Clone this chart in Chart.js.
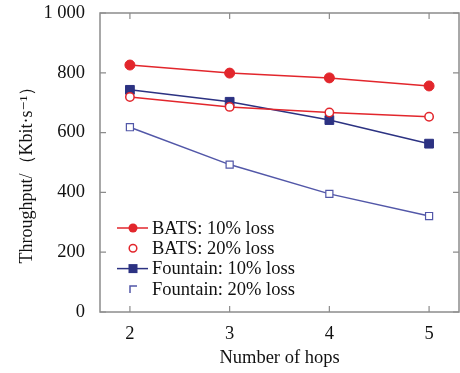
<!DOCTYPE html>
<html>
<head>
<meta charset="utf-8">
<script src="https://cdn.jsdelivr.net/npm/chart.js@4.4.0/dist/chart.umd.min.js"></script>
<style>
  html, body { margin: 0; padding: 0; background: #fff; }
  #wrap { width: 460px; height: 373px; position: relative; }
</style>
</head>
<body>
<div id="wrap"><canvas id="myChart" width="460" height="373"></canvas></div>
<script>
const hops = [2, 3, 4, 5];
const yTicks = [0, 200, 400, 600, 800, 1000];
const seriesNames = ['BATS: 10% loss', 'BATS: 20% loss', 'Fountain: 10% loss', 'Fountain: 20% loss'];
const bats10 = [826, 799, 783, 756];
const bats20 = [719, 686, 667, 653];
const fountain10 = [743, 703, 642, 563];
const fountain20 = [618, 493, 395, 321];
const yTitle = 'Throughput/（Kbit·s⁻¹）';
const xTitle = 'Number of hops';

const RED = '#e2262c';
const NAVY = '#2c3282';
const BLUE2 = '#5257a8';
const SERIF = '"Liberation Serif", "DejaVu Serif", serif';

const toPoints = (vals) => hops.map((h, i) => ({x: h, y: vals[i]}));

const fmtThousands = (v) => v >= 1000 ? String(v).replace(/\B(?=(\d{3})+(?!\d))/g, ' ') : String(v);

// frame, inward tick marks on all four sides, and the rotated y title
const framePlugin = {
    id: 'frame',
    afterDraw(chart) {
        const {ctx, chartArea: a, scales} = chart;
        ctx.save();
        ctx.strokeStyle = '#8c8c8c';
        ctx.lineWidth = 1.5;
        ctx.strokeRect(a.left, a.top, a.right - a.left, a.bottom - a.top);
        ctx.lineWidth = 1.2;
        const t = 6;
        ctx.beginPath();
        for (let h of hops) {
            let x = scales.x.getPixelForValue(h);
            ctx.moveTo(x, a.bottom); ctx.lineTo(x, a.bottom - t);
            ctx.moveTo(x, a.top); ctx.lineTo(x, a.top + t);
        }
        for (let v of yTicks) {
            let y = scales.y.getPixelForValue(v);
            ctx.moveTo(a.left, y); ctx.lineTo(a.left + t, y);
            ctx.moveTo(a.right, y); ctx.lineTo(a.right - t, y);
        }
        ctx.stroke();

        ctx.translate(27, (a.top + a.bottom) / 2 + 8);
        ctx.rotate(-Math.PI / 2);
        ctx.font = '18px ' + SERIF;
        ctx.fillStyle = '#111';
        ctx.textAlign = 'center';
        ctx.textBaseline = 'middle';
        ctx.fillText(yTitle, 0, 0);
        ctx.restore();
    }
};

// legend in the lower left corner: line + marker for 10% series, marker only for 20%
const legendPlugin = {
    id: 'cornerLegend',
    afterDatasetsDraw(chart) {
        const {ctx, chartArea: a} = chart;
        const x0 = a.left + 17, x1 = a.left + 48, xm = a.left + 33, xt = a.left + 52;
        const rowY = (i) => a.top + 215 + i * 20.3;
        ctx.save();
        ctx.font = '18.5px ' + SERIF;
        ctx.textBaseline = 'middle';
        chart.data.datasets.forEach((ds, i) => {
            let y = rowY(i);
            if (i % 2 === 0) {
                ctx.strokeStyle = ds.borderColor;
                ctx.lineWidth = 1.5;
                ctx.beginPath(); ctx.moveTo(x0, y); ctx.lineTo(x1, y); ctx.stroke();
            }
            ctx.strokeStyle = ds.pointBorderColor;
            ctx.fillStyle = ds.pointBackgroundColor;
            ctx.lineWidth = 1.5;
            if (i === 0) {
                ctx.beginPath(); ctx.arc(xm, y, 4.5, 0, Math.PI * 2); ctx.fill();
            } else if (i === 1) {
                ctx.beginPath(); ctx.arc(xm, y, 3.8, 0, Math.PI * 2); ctx.fill(); ctx.stroke();
            } else if (i === 2) {
                ctx.fillRect(xm - 4.5, y - 4.5, 9, 9);
            } else {
                ctx.beginPath(); ctx.moveTo(xm - 3, y + 4); ctx.lineTo(xm - 3, y - 3); ctx.lineTo(xm + 4, y - 3); ctx.stroke();
            }
            ctx.fillStyle = '#111';
            ctx.fillText(seriesNames[i], xt, y + 1);
        });
        ctx.restore();
    }
};

const ctxL = document.getElementById('myChart').getContext('2d');
const myLineChart = new Chart(ctxL, {
    type: 'line',
    data: {
        datasets: [
            {
                label: seriesNames[0], data: toPoints(bats10),
                borderColor: RED, borderWidth: 1.5,
                pointStyle: 'circle', pointRadius: 5,
                pointBackgroundColor: RED, pointBorderColor: RED, pointBorderWidth: 1
            },
            {
                label: seriesNames[1], data: toPoints(bats20),
                borderColor: RED, borderWidth: 1.5,
                pointStyle: 'circle', pointRadius: 4.2,
                pointBackgroundColor: '#fff', pointBorderColor: RED, pointBorderWidth: 1.5
            },
            {
                label: seriesNames[2], data: toPoints(fountain10),
                borderColor: NAVY, borderWidth: 1.5,
                pointStyle: 'rect', pointRadius: 6.2,
                pointBackgroundColor: NAVY, pointBorderColor: NAVY, pointBorderWidth: 1
            },
            {
                label: seriesNames[3], data: toPoints(fountain20),
                borderColor: BLUE2, borderWidth: 1.5,
                pointStyle: 'rect', pointRadius: 5,
                pointBackgroundColor: '#fff', pointBorderColor: BLUE2, pointBorderWidth: 1.2
            }
        ]
    },
    options: {
        responsive: false,
        animation: false,
        layout: {autoPadding: false, padding: {top: 13, right: 1, left: 0, bottom: 0}},
        plugins: {legend: {display: false}, tooltip: {enabled: false}},
        elements: {line: {tension: 0}},
        scales: {
            x: {
                type: 'linear', min: 1.7, max: 5.3,
                afterBuildTicks: (s) => { s.ticks = hops.map(v => ({value: v})); },
                afterFit: (s) => { s.height = 61; s.paddingLeft = 0; s.paddingRight = 0; },
                grid: {display: false, drawTicks: false},
                border: {display: false},
                ticks: {
                    padding: 11, color: '#111',
                    font: {family: SERIF, size: 18.5}
                },
                title: {
                    display: true, text: xTitle, color: '#111',
                    font: {family: SERIF, size: 18.5}, padding: {top: 3}
                }
            },
            y: {
                min: 0, max: 1000,
                afterBuildTicks: (s) => { s.ticks = yTicks.map(v => ({value: v})); },
                afterFit: (s) => { s.width = 100; s.paddingTop = 0; s.paddingBottom = 0; },
                grid: {display: false, drawTicks: false},
                border: {display: false},
                ticks: {
                    padding: 15, color: '#111',
                    font: {family: SERIF, size: 18.5},
                    callback: (v) => fmtThousands(v)
                },
                title: {display: false}
            }
        }
    },
    plugins: [framePlugin, legendPlugin]
});
</script>
</body>
</html>
